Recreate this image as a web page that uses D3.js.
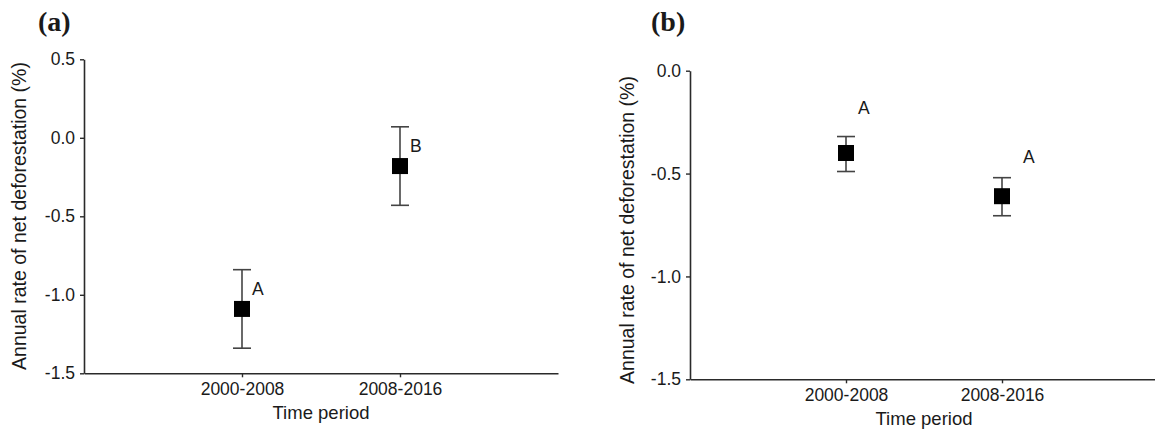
<!DOCTYPE html>
<html>
<head>
<meta charset="utf-8">
<script src="https://cdn.jsdelivr.net/npm/d3@7"></script>
<style>
  body { margin: 0; background: #fff; }
  svg text { font-family: 'Liberation Sans', Arial, sans-serif; fill: #1a1a1a; }
</style>
</head>
<body>
<svg id="viz" width="1155" height="432"></svg>
<script>
// categories
const periods = ['2000-2008', '2008-2016'];

// panel (a) values
const meanA = [-1.09, -0.18];
const upperA = [-0.84, 0.07];
const lowerA = [-1.34, -0.43];
const lettersA = ['A', 'B'];
const letterValA = [-1.0, -0.09];
const yTicksA = [0.5, 0.0, -0.5, -1.0, -1.5];

// panel (b) values
const meanB = [-0.40, -0.61];
const upperB = [-0.32, -0.52];
const lowerB = [-0.49, -0.705];
const lettersB = ['A', 'A'];
const letterValB = [-0.21, -0.45];
const yTicksB = [0.0, -0.5, -1.0, -1.5];

const svg = d3.select('#viz');

const drawPanel = (cfg) => {
  var g = svg.append('g');

  var x = d3.scaleLinear().domain([0, 3]).range(cfg.xRange);
  var y = d3.scaleLinear().domain(cfg.yDomain).range(cfg.yRange);

  var rows = periods.map((p, i) => ({
    period: p,
    pos: i + 1,
    mean: cfg.mean[i],
    upper: cfg.upper[i],
    lower: cfg.lower[i],
    letter: cfg.letters[i],
    letterVal: cfg.letterVal[i],
    dx: cfg.letterDx[i],
  }));

  // x axis
  var xAxis = g
    .append('g')
    .attr('transform', 'translate(0,' + y(cfg.yDomain[0]) + ')')
    .call(
      d3
        .axisBottom(x)
        .tickValues([1, 2])
        .tickFormat((d) => periods[d - 1])
        .tickSizeInner(4)
        .tickSizeOuter(0)
        .tickPadding(5)
    );

  // y axis
  var yAxis = g
    .append('g')
    .attr('transform', 'translate(' + cfg.xRange[0] + ',0)')
    .call(
      d3
        .axisLeft(y)
        .tickValues(cfg.yTicks)
        .tickFormat((d) => d.toFixed(1))
        .tickSizeInner(4)
        .tickSizeOuter(0)
        .tickPadding(5)
    );

  [xAxis, yAxis].forEach((a) => {
    a.select('.domain').attr('stroke', '#2a2a2a').attr('stroke-width', 1.6);
    a.selectAll('.tick line').attr('stroke', '#2a2a2a').attr('stroke-width', 1.4);
    a.selectAll('.tick text')
      .style('font-family', "'Liberation Sans', Arial, sans-serif")
      .style('font-size', '17.5px')
      .attr('fill', '#1a1a1a');
  });

  // error bars
  var bars = g.append('g').selectAll('g').data(rows).enter().append('g');

  bars
    .append('line')
    .attr('x1', (d) => x(d.pos))
    .attr('x2', (d) => x(d.pos))
    .attr('y1', (d) => y(d.upper))
    .attr('y2', (d) => y(d.lower))
    .attr('stroke', '#444')
    .attr('stroke-width', 1.6);

  bars
    .append('line')
    .attr('x1', (d) => x(d.pos) - 9)
    .attr('x2', (d) => x(d.pos) + 9)
    .attr('y1', (d) => y(d.upper))
    .attr('y2', (d) => y(d.upper))
    .attr('stroke', '#444')
    .attr('stroke-width', 1.6);

  bars
    .append('line')
    .attr('x1', (d) => x(d.pos) - 9)
    .attr('x2', (d) => x(d.pos) + 9)
    .attr('y1', (d) => y(d.lower))
    .attr('y2', (d) => y(d.lower))
    .attr('stroke', '#444')
    .attr('stroke-width', 1.6);

  // mean squares
  bars
    .append('rect')
    .attr('x', (d) => x(d.pos) - 8)
    .attr('y', (d) => y(d.mean) - 8)
    .attr('width', 16)
    .attr('height', 16)
    .attr('fill', '#000');

  // significance letters
  bars
    .append('text')
    .attr('x', (d) => x(d.pos) + d.dx)
    .attr('y', (d) => y(d.letterVal))
    .style('font-size', '17.5px')
    .text((d) => d.letter);

  // axis titles
  g.append('text')
    .attr('x', (cfg.xRange[0] + cfg.xTitleEnd) / 2)
    .attr('y', y(cfg.yDomain[0]) + 46)
    .attr('text-anchor', 'middle')
    .style('font-size', '18.5px')
    .text('Time period');

  g.append('text')
    .attr('transform', 'rotate(-90)')
    .attr('x', -cfg.yTitleMid)
    .attr('y', cfg.yTitleX)
    .attr('text-anchor', 'middle')
    .style('font-size', '19.5px')
    .text('Annual rate of net deforestation (%)');

  // panel label
  g.append('text')
    .attr('x', cfg.labelX)
    .attr('y', 31)
    .style('font-family', "'Liberation Serif', 'Times New Roman', serif")
    .style('font-weight', 'bold')
    .style('font-size', '28px')
    .attr('fill', '#000')
    .text(cfg.label);
};

drawPanel({
  label: '(a)',
  labelX: 38,
  xRange: [84, 558],
  xTitleEnd: 558,
  yDomain: [-1.5, 0.5],
  yRange: [373.3, 59.3],
  yTicks: yTicksA,
  mean: meanA,
  upper: upperA,
  lower: lowerA,
  letters: lettersA,
  letterVal: letterValA,
  letterDx: [10, 10],
  yTitleMid: 216,
  yTitleX: 26,
});

drawPanel({
  label: '(b)',
  labelX: 651,
  xRange: [690, 1158],
  xTitleEnd: 1158,
  yDomain: [-1.5, 0.0],
  yRange: [379.3, 70.7],
  yTicks: yTicksB,
  mean: meanB,
  upper: upperB,
  lower: lowerB,
  letters: lettersB,
  letterVal: letterValB,
  letterDx: [12, 21],
  yTitleMid: 230,
  yTitleX: 634,
});
</script>
</body>
</html>
